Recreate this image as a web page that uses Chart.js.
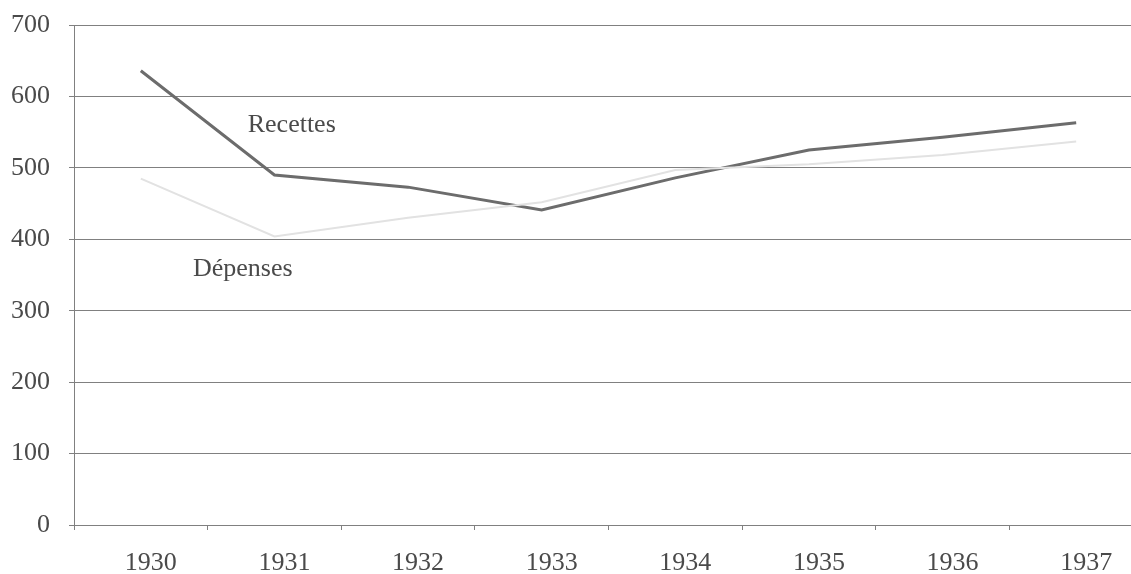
<!DOCTYPE html>
<html>
<head>
<meta charset="utf-8">
<script src="https://cdn.jsdelivr.net/npm/chart.js@4"></script>
<style>
  html, body { margin: 0; padding: 0; background: #fff; overflow: hidden; }
  #wrap { width: 1150px; height: 574px; }
</style>
</head>
<body>
<div id="wrap"><canvas id="budgetChart"></canvas></div>
<script>
// --- data ---
const years = ['1930', '1931', '1932', '1933', '1934', '1935', '1936', '1937'];
const recettes = [636, 490, 473, 441, 486, 525, 543, 563];
const depenses = [485, 404, 430, 452, 497, 505, 518, 537];
const yTicks = [0, 100, 200, 300, 400, 500, 600, 700];

const serif = 'Liberation Serif, Times New Roman, serif';

// labels placed next to the lines, in data coordinates
const seriesLabels = {
  id: 'seriesLabels',
  afterDatasetsDraw(chart) {
    const { ctx, scales: { x, y } } = chart;
    ctx.save();
    ctx.font = '26px ' + serif;
    ctx.fillStyle = '#4a4a4a';
    ctx.textBaseline = 'alphabetic';
    ctx.fillText('Recettes', x.getPixelForValue(0.8), y.getPixelForValue(550));
    ctx.fillText('Dépenses', x.getPixelForValue(0.39), y.getPixelForValue(349));
    ctx.restore();
  }
};

new Chart(document.getElementById('budgetChart'), {
  type: 'line',
  data: {
    labels: years,
    datasets: [
      {
        label: 'Dépenses',
        data: depenses,
        borderColor: '#e2e2e2',
        borderWidth: 2,
        pointRadius: 0,
        tension: 0
      },
      {
        label: 'Recettes',
        data: recettes,
        borderColor: '#6c6c6c',
        borderWidth: 3,
        pointRadius: 0,
        tension: 0
      }
    ]
  },
  options: {
    responsive: true,
    maintainAspectRatio: false,
    animation: false,
    layout: { padding: { top: 25, right: 7, left: 0, bottom: 0 } },
    plugins: {
      legend: { display: false },
      tooltip: { enabled: false }
    },
    scales: {
      x: {
        offset: true,
        grid: { offset: true, drawOnChartArea: false, color: '#808080', tickLength: 5 },
        border: { color: '#808080' },
        ticks: {
          font: { family: serif, size: 26 },
          color: '#4a4a4a',
          labelOffset: 10,
          padding: 18
        },
        afterFit: (s) => { s.height = 49; s.paddingLeft = 0; s.paddingRight = 0; }
      },
      y: {
        min: 0,
        max: 700,
        afterBuildTicks: (s) => { s.ticks = yTicks.map(v => ({ value: v })); },
        grid: { color: '#808080', tickLength: 5 },
        border: { color: '#808080' },
        ticks: {
          font: { family: serif, size: 26 },
          color: '#4a4a4a',
          padding: 19
        },
        afterFit: (s) => { s.width = 74; s.paddingTop = 0; s.paddingBottom = 0; }
      }
    }
  },
  plugins: [seriesLabels]
});
</script>
</body>
</html>
